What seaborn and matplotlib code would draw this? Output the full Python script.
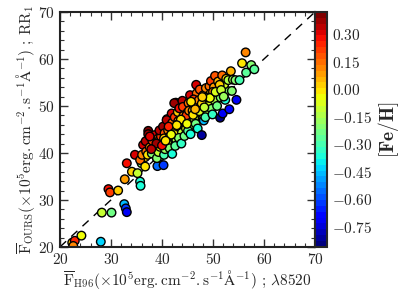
import numpy as np
import pandas as pd
import matplotlib
matplotlib.use("Agg")
import matplotlib.pyplot as plt
import seaborn as sns
from matplotlib.ticker import MultipleLocator, FixedLocator

# ---------------- data ----------------
f_h96 = [
    22.4, 22.9, 22.6, 24.2, 28.0, 28.2, 30.1, 29.5, 29.8, 31.4, 32.7, 32.6, 32.9, 33.1, 34.1,
    33.1, 34.7, 35.2, 35.7, 35.8, 36.0, 36.7, 39.1, 40.3, 39.0, 38.0, 35.7, 36.1, 36.7,
    36.3, 36.8, 37.3, 37.3, 36.9, 37.6, 37.2, 38.0, 38.4, 38.1, 38.6, 37.6, 39.3, 38.6, 39.6,
    39.0, 39.3, 39.6, 39.2, 39.8, 39.5, 40.2, 40.4, 40.6, 40.1, 40.8, 40.5, 40.4,
    41.0, 41.4, 41.2, 41.6, 41.0, 41.5, 41.9, 42.0, 40.9,
    42.3, 42.0, 42.5, 42.7, 42.4, 42.8, 42.6, 43.1, 42.4,
    43.4, 43.2, 43.6, 43.9, 43.3, 43.8, 44.0, 44.2, 44.5, 44.1, 44.7, 44.4,
    45.5, 45.2, 45.0, 45.4, 45.8, 45.1, 45.9, 45.6,
    46.8, 46.7, 46.2, 46.4, 46.9, 46.3, 46.6, 47.0, 47.2, 47.5, 47.4,
    48.2, 47.8, 48.0, 48.4, 48.1, 48.6, 48.8, 48.9, 48.5,
    49.3, 49.5, 49.2, 49.7, 49.9, 49.6,
    50.4, 50.2, 50.6, 50.3, 50.8, 51.0, 51.2, 51.4, 51.9, 51.8, 51.5,
    52.4, 52.8, 52.2, 53.5, 53.7, 53.2, 52.6, 53.0, 53.9,
    54.6, 54.4, 55.2, 56.5, 57.5, 58.1, 55.7, 56.4,
    44.8, 45.3, 46.0, 43.0, 47.8, 50.0, 51.3, 49.0, 41.3, 38.9, 40.0, 37.9,
    43.7, 44.9, 46.1, 47.3, 48.3, 49.4, 50.5, 51.6, 52.1, 42.9, 41.8, 40.7, 46.5, 47.9, 45.7,
]
f_ours = [
    20.9, 21.3, 20.2, 22.4, 21.1, 27.3, 27.3, 32.3, 31.6, 32.0, 34.4, 29.1, 28.2, 27.4, 36.0,
    37.8, 39.6, 35.7, 33.9, 33.0, 37.8, 39.1, 37.2, 37.4, 38.9, 39.9, 38.5, 39.6, 37.1,
    41.7, 42.5, 44.7, 44.0, 40.3, 41.2, 39.6, 39.9, 41.0, 42.6, 43.8, 43.5, 43.1, 41.0, 39.2,
    38.9, 40.2, 41.3, 42.4, 43.5, 44.8, 45.6, 39.6, 40.8, 42.0, 43.0, 44.2, 43.1,
    47.2, 46.0, 44.8, 43.6, 42.2, 41.0, 48.4, 39.8, 47.0,
    45.2, 46.4, 47.6, 50.7, 50.6, 42.8, 41.5, 48.7, 44.0,
    49.5, 46.8, 45.6, 44.3, 43.2, 42.0, 51.1, 47.9, 46.7, 49.8, 45.2, 43.6,
    52.3, 50.6, 48.6, 47.4, 46.0, 44.7, 49.6, 44.0,
    52.7, 54.5, 51.4, 50.0, 48.7, 47.4, 46.2, 45.2, 51.2, 49.6, 53.5,
    46.9, 43.8, 48.3, 50.2, 52.3, 53.8, 51.3, 49.0, 47.6,
    54.2, 52.6, 50.8, 49.4, 48.2, 55.3,
    56.4, 54.0, 52.8, 51.2, 50.0, 55.2, 53.6, 47.5, 48.4, 56.5, 51.8,
    51.3, 53.2, 54.6, 57.4, 53.2, 49.3, 55.8, 55.5, 55.6,
    51.3, 55.5, 55.5, 57.1, 58.7, 57.8, 59.1, 61.4,
    48.0, 49.0, 49.0, 46.0, 50.5, 53.0, 54.5, 51.8, 45.6, 42.0, 41.6, 40.8,
    47.1, 46.2, 48.1, 48.9, 49.7, 51.7, 53.0, 53.4, 52.0, 45.9, 43.9, 42.6, 49.3, 51.9, 50.9,
]
fe_h = [
    0.02, 0.25, 0.10, -0.05, -0.42, -0.12, -0.25, 0.28, 0.20, 0.02, 0.08, -0.45, -0.62, -0.72, 0.02,
    0.28, 0.30, -0.12, -0.35, -0.38, -0.20, 0.02, -0.55, -0.62, -0.22, -0.18, 0.15, 0.10, 0.00,
    0.30, 0.35, 0.40, 0.38, 0.15, 0.10, 0.00, -0.20, -0.05, 0.20, 0.30, 0.30, 0.15, 0.02, -0.18,
    -0.22, -0.12, 0.00, 0.12, 0.22, 0.33, 0.36, -0.30, -0.18, -0.05, 0.05, 0.18, 0.02,
    0.38, 0.22, 0.10, 0.02, -0.10, -0.22, 0.30, -0.35, 0.33,
    0.05, 0.15, 0.20, 0.42, 0.38, -0.15, -0.28, 0.02, -0.02,
    0.28, 0.08, 0.00, -0.10, -0.20, -0.32, 0.33, 0.12, 0.02, 0.20, -0.08, -0.25,
    0.30, 0.15, 0.05, -0.02, -0.15, -0.28, 0.08, -0.38,
    0.15, 0.32, 0.22, 0.05, -0.05, -0.12, -0.25, -0.35, 0.10, 0.00, 0.18,
    -0.45, -0.82, -0.22, -0.05, 0.12, 0.10, 0.00, -0.15, -0.30,
    0.15, 0.03, -0.08, -0.20, -0.32, 0.22,
    0.18, 0.08, -0.02, -0.15, -0.25, 0.05, -0.10, -0.85, -0.72, 0.15, -0.22,
    -0.38, -0.20, -0.08, 0.05, -0.22, -0.70, 0.00, -0.15, -0.18,
    -0.72, -0.22, -0.30, -0.28, -0.20, -0.28, 0.00, 0.10,
    0.22, 0.12, 0.05, 0.20, 0.02, 0.10, 0.03, 0.00, 0.25, 0.38, 0.28, 0.35,
    0.00, -0.05, -0.02, -0.08, -0.10, -0.05, -0.08, -0.12, -0.18, 0.00, -0.05, -0.02, 0.05, 0.02, 0.00,
]
diag = [20, 70]
cbar_ticks = [0.30, 0.15, 0.00, -0.15, -0.30, -0.45, -0.60, -0.75]
axis_ticks = [20, 30, 40, 50, 60, 70]
feh_min, feh_max = -0.86, 0.42

df = pd.DataFrame({"h96": f_h96, "ours": f_ours, "feh": fe_h})

# ---------------- style ----------------
sns.set_style("ticks")
plt.rcParams["font.family"] = ["serif"]
plt.rcParams["font.serif"] = ["cmr10", "DejaVu Serif"]
plt.rcParams["mathtext.fontset"] = "cm"
plt.rcParams["axes.formatter.use_mathtext"] = True
plt.rcParams["axes.unicode_minus"] = False

fig = plt.figure(figsize=(4, 3), dpi=100)
ax = fig.add_axes([0.15, 0.177, 0.6375, 0.783])
cax = fig.add_axes([0.7875, 0.177, 0.03, 0.783])

ax.plot(diag, diag, ls=(0, (6, 5)), color="black", lw=1.0, zorder=1)

cmap = plt.get_cmap("jet", 40)
norm = plt.Normalize(feh_min, feh_max)
sns.scatterplot(data=df, x="h96", y="ours", hue="feh", palette=cmap,
                hue_norm=norm, legend=False, s=38, edgecolor="black",
                linewidth=1.0, ax=ax, zorder=2)

ax.set_xlim(20, 70)
ax.set_ylim(20, 70)
ax.xaxis.set_major_locator(FixedLocator(axis_ticks))
ax.yaxis.set_major_locator(FixedLocator(axis_ticks))
ax.xaxis.set_minor_locator(MultipleLocator(2))
ax.yaxis.set_minor_locator(MultipleLocator(2))
ax.set_xticklabels([f"${t}$" for t in axis_ticks])
ax.set_yticklabels([f"${t}$" for t in axis_ticks])
ax.tick_params(which="both", direction="in", top=True, right=True, labelsize=11,
               color="#333333")
ax.tick_params(which="major", length=6, width=1)
ax.tick_params(which="minor", length=3, width=0.8)
for sp in ax.spines.values():
    sp.set_linewidth(1.5)
    sp.set_color("#222222")

ax.set_xlabel(r"$\overline{\rm F}_{\rm H96}(\times10^5{\rm erg.cm^{-2}.s^{-1}\AA^{-1}})$ ; $\lambda\rm 8520$",
              fontsize=11, labelpad=1)
ax.set_ylabel(r"$\overline{\rm F}_{\rm OURS}(\times10^5{\rm erg.cm^{-2}.s^{-1}\AA^{-1}})$ ; $\rm RR_1$",
              fontsize=11, labelpad=1)

sm = matplotlib.cm.ScalarMappable(norm=norm, cmap=cmap)
cb = fig.colorbar(sm, cax=cax)
cb.set_ticks(cbar_ticks)
cb.set_ticklabels([f"${t:.2f}$" for t in cbar_ticks])
cb.ax.yaxis.set_minor_locator(MultipleLocator(0.03))
cb.ax.tick_params(which="both", direction="in", labelsize=11, color="#333333")
cb.ax.tick_params(which="major", length=6)
cb.ax.tick_params(which="minor", length=3)
cb.outline.set_linewidth(1.5)
cb.set_label(r"$\mathbf{[Fe/H]}$", fontsize=14, labelpad=3)

fig.savefig("out.png", dpi=100)
